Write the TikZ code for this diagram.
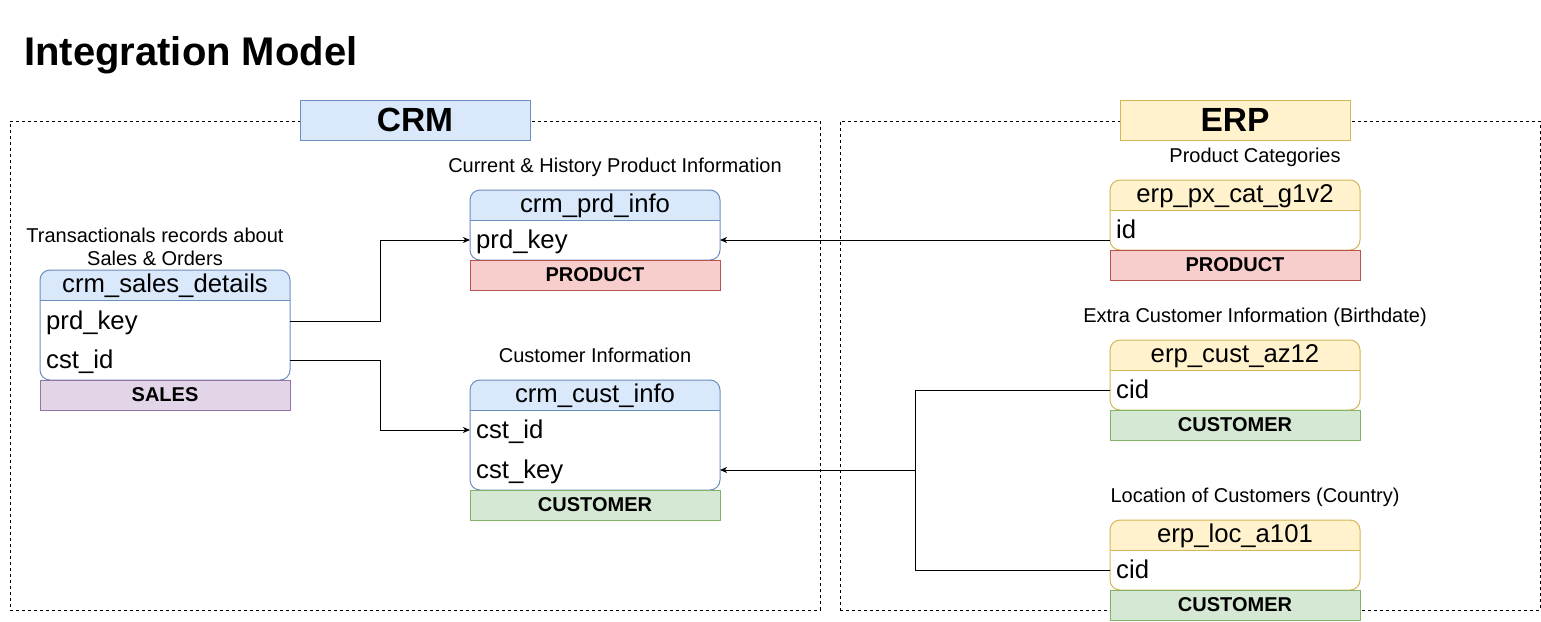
\documentclass[tikz,border=0pt]{standalone}
\usepackage{fontspec}
\setmainfont{Liberation Sans}
\usetikzlibrary{arrows.meta}
\definecolor{bluefill}{HTML}{DAE8FC}
\definecolor{bluedraw}{HTML}{6C8EBF}
\definecolor{yelfill}{HTML}{FFF2CC}
\definecolor{yeldraw}{HTML}{D6B656}
\definecolor{redfill}{HTML}{F8CECC}
\definecolor{reddraw}{HTML}{B85450}
\definecolor{grnfill}{HTML}{D5E8D4}
\definecolor{grndraw}{HTML}{82B366}
\definecolor{purfill}{HTML}{E1D5E7}
\definecolor{purdraw}{HTML}{9673A6}
\tikzset{
  container/.style={draw=black, dash pattern=on 3pt off 3pt, line width=0.8pt, anchor=north west, inner sep=0},
  grouplabel/.style={draw, line width=1pt, minimum width=230pt, minimum height=40pt, inner sep=0, font=\fontsize{33.5}{40}\selectfont\bfseries},
  notetwo/.style={font=\fontsize{20}{23}\selectfont, align=center, inner sep=0},
  note/.style={font=\fontsize{20}{23}\selectfont, inner sep=0, text height=16pt, text depth=2pt},
  headtext/.style={font=\fontsize{25.7}{30}\selectfont, inner sep=0, text height=19pt, text depth=5pt},
  fieldtext/.style={font=\fontsize{25.7}{30}\selectfont, inner sep=0, anchor=west, text height=20pt, text depth=3pt},
  badge/.style={draw, line width=1pt, minimum width=250pt, minimum height=30pt, inner sep=0, text height=13pt, text depth=1pt, font=\fontsize{20}{24}\selectfont\bfseries},
  conn/.style={draw=black, line width=1pt},
  arr/.style={conn, -{Stealth[length=7pt,width=6pt,inset=2pt]}},
}
\newcommand{\dbtable}[7]{%
  \node[anchor=north west, minimum width=250pt, minimum height=#4pt, inner sep=0, outer sep=0] (#1) at (#2,#3) {};
  \begin{scope}
    \clip[rounded corners=10pt] (#1.north west) rectangle (#1.south east);
    \fill[white] (#1.north west) rectangle (#1.south east);
    \fill[#5] (#1.north west) rectangle ([yshift=-30pt]#1.north east);
  \end{scope}
  \draw[#6, line width=1pt] ([yshift=-30pt]#1.north west) -- ([yshift=-30pt]#1.north east);
  \draw[#6, line width=1pt, rounded corners=10pt] (#1.north west) rectangle (#1.south east);
  \node[headtext] (#1-title) at ([yshift=-15.5pt]#1.north) {#7};
}
\begin{document}
\begin{tikzpicture}[x=1pt, y=-1pt]
\useasboundingbox[fill=white] (0,0) rectangle (1541,621);

% title
\node[anchor=base west, inner sep=0, font=\fontsize{40}{48}\selectfont\bfseries] (title) at (24,65) {Integration Model};

% containers
\node[container, minimum width=810pt, minimum height=489pt] (crm) at (10,121) {};
\node[container, minimum width=700pt, minimum height=489pt] (erp) at (840,121) {};
\node[grouplabel, fill=bluefill, draw=bluedraw] (crmlabel) at (415,120) {CRM};
\node[grouplabel, fill=yelfill, draw=yeldraw] (erplabel) at (1235,120) {ERP};

% notes
\node[notetwo] (salesnote) at (155,246.5) {Transactionals records about\\Sales \& Orders};
\node[note] (prdnote) at (615,165) {Current \& History Product Information};
\node[note] (custnote) at (595,355) {Customer Information};
\node[note] (pxnote) at (1255,155) {Product Categories};
\node[note] (aznote) at (1255,315) {Extra Customer Information (Birthdate)};
\node[note] (locnote) at (1255,495) {Location of Customers (Country)};

% tables
\dbtable{sales}{40}{270}{110}{bluefill}{bluedraw}{crm\_sales\_details}
\node[fieldtext] (salesprd) at (46,321) {prd\_key};
\node[fieldtext] (salescst) at (46,360) {cst\_id};
\node[badge, fill=purfill, draw=purdraw] (salesbadge) at (165,395) {SALES};

\dbtable{prd}{470}{190}{70}{bluefill}{bluedraw}{crm\_prd\_info}
\node[fieldtext] (prdkey) at (476,240) {prd\_key};
\node[badge, fill=redfill, draw=reddraw] (prdbadge) at (595,275) {PRODUCT};

\dbtable{cust}{470}{380}{110}{bluefill}{bluedraw}{crm\_cust\_info}
\node[fieldtext] (custid) at (476,430) {cst\_id};
\node[fieldtext] (custkey) at (476,470) {cst\_key};
\node[badge, fill=grnfill, draw=grndraw] (custbadge) at (595,505) {CUSTOMER};

\dbtable{px}{1110}{180}{70}{yelfill}{yeldraw}{erp\_px\_cat\_g1v2}
\node[fieldtext] (pxid) at (1116,230) {id};
\node[badge, fill=redfill, draw=reddraw] (pxbadge) at (1235,265) {PRODUCT};

\dbtable{az}{1110}{340}{70}{yelfill}{yeldraw}{erp\_cust\_az12}
\node[fieldtext] (azcid) at (1116,390) {cid};
\node[badge, fill=grnfill, draw=grndraw] (azbadge) at (1235,425) {CUSTOMER};

\dbtable{loc}{1110}{520}{70}{yelfill}{yeldraw}{erp\_loc\_a101}
\node[fieldtext] (loccid) at (1116,570) {cid};
\node[badge, fill=grnfill, draw=grndraw] (locbadge) at (1235,605) {CUSTOMER};

% connectors
\draw[arr] (sales.east |- salesprd) -- ++(90,0) |- (prd.west |- prdkey);
\draw[arr] (sales.east |- salescst) -- ++(90,0) |- (cust.west |- custid);
\draw[arr] (px.west |- prdkey) -- (prd.east |- prdkey);
\coordinate (junc) at (915,470);
\draw[conn] (az.west |- azcid) -| (junc);
\draw[conn] (loc.west |- loccid) -| (junc);
\draw[arr] (junc) -- (cust.east |- custkey);
\end{tikzpicture}
\end{document}
